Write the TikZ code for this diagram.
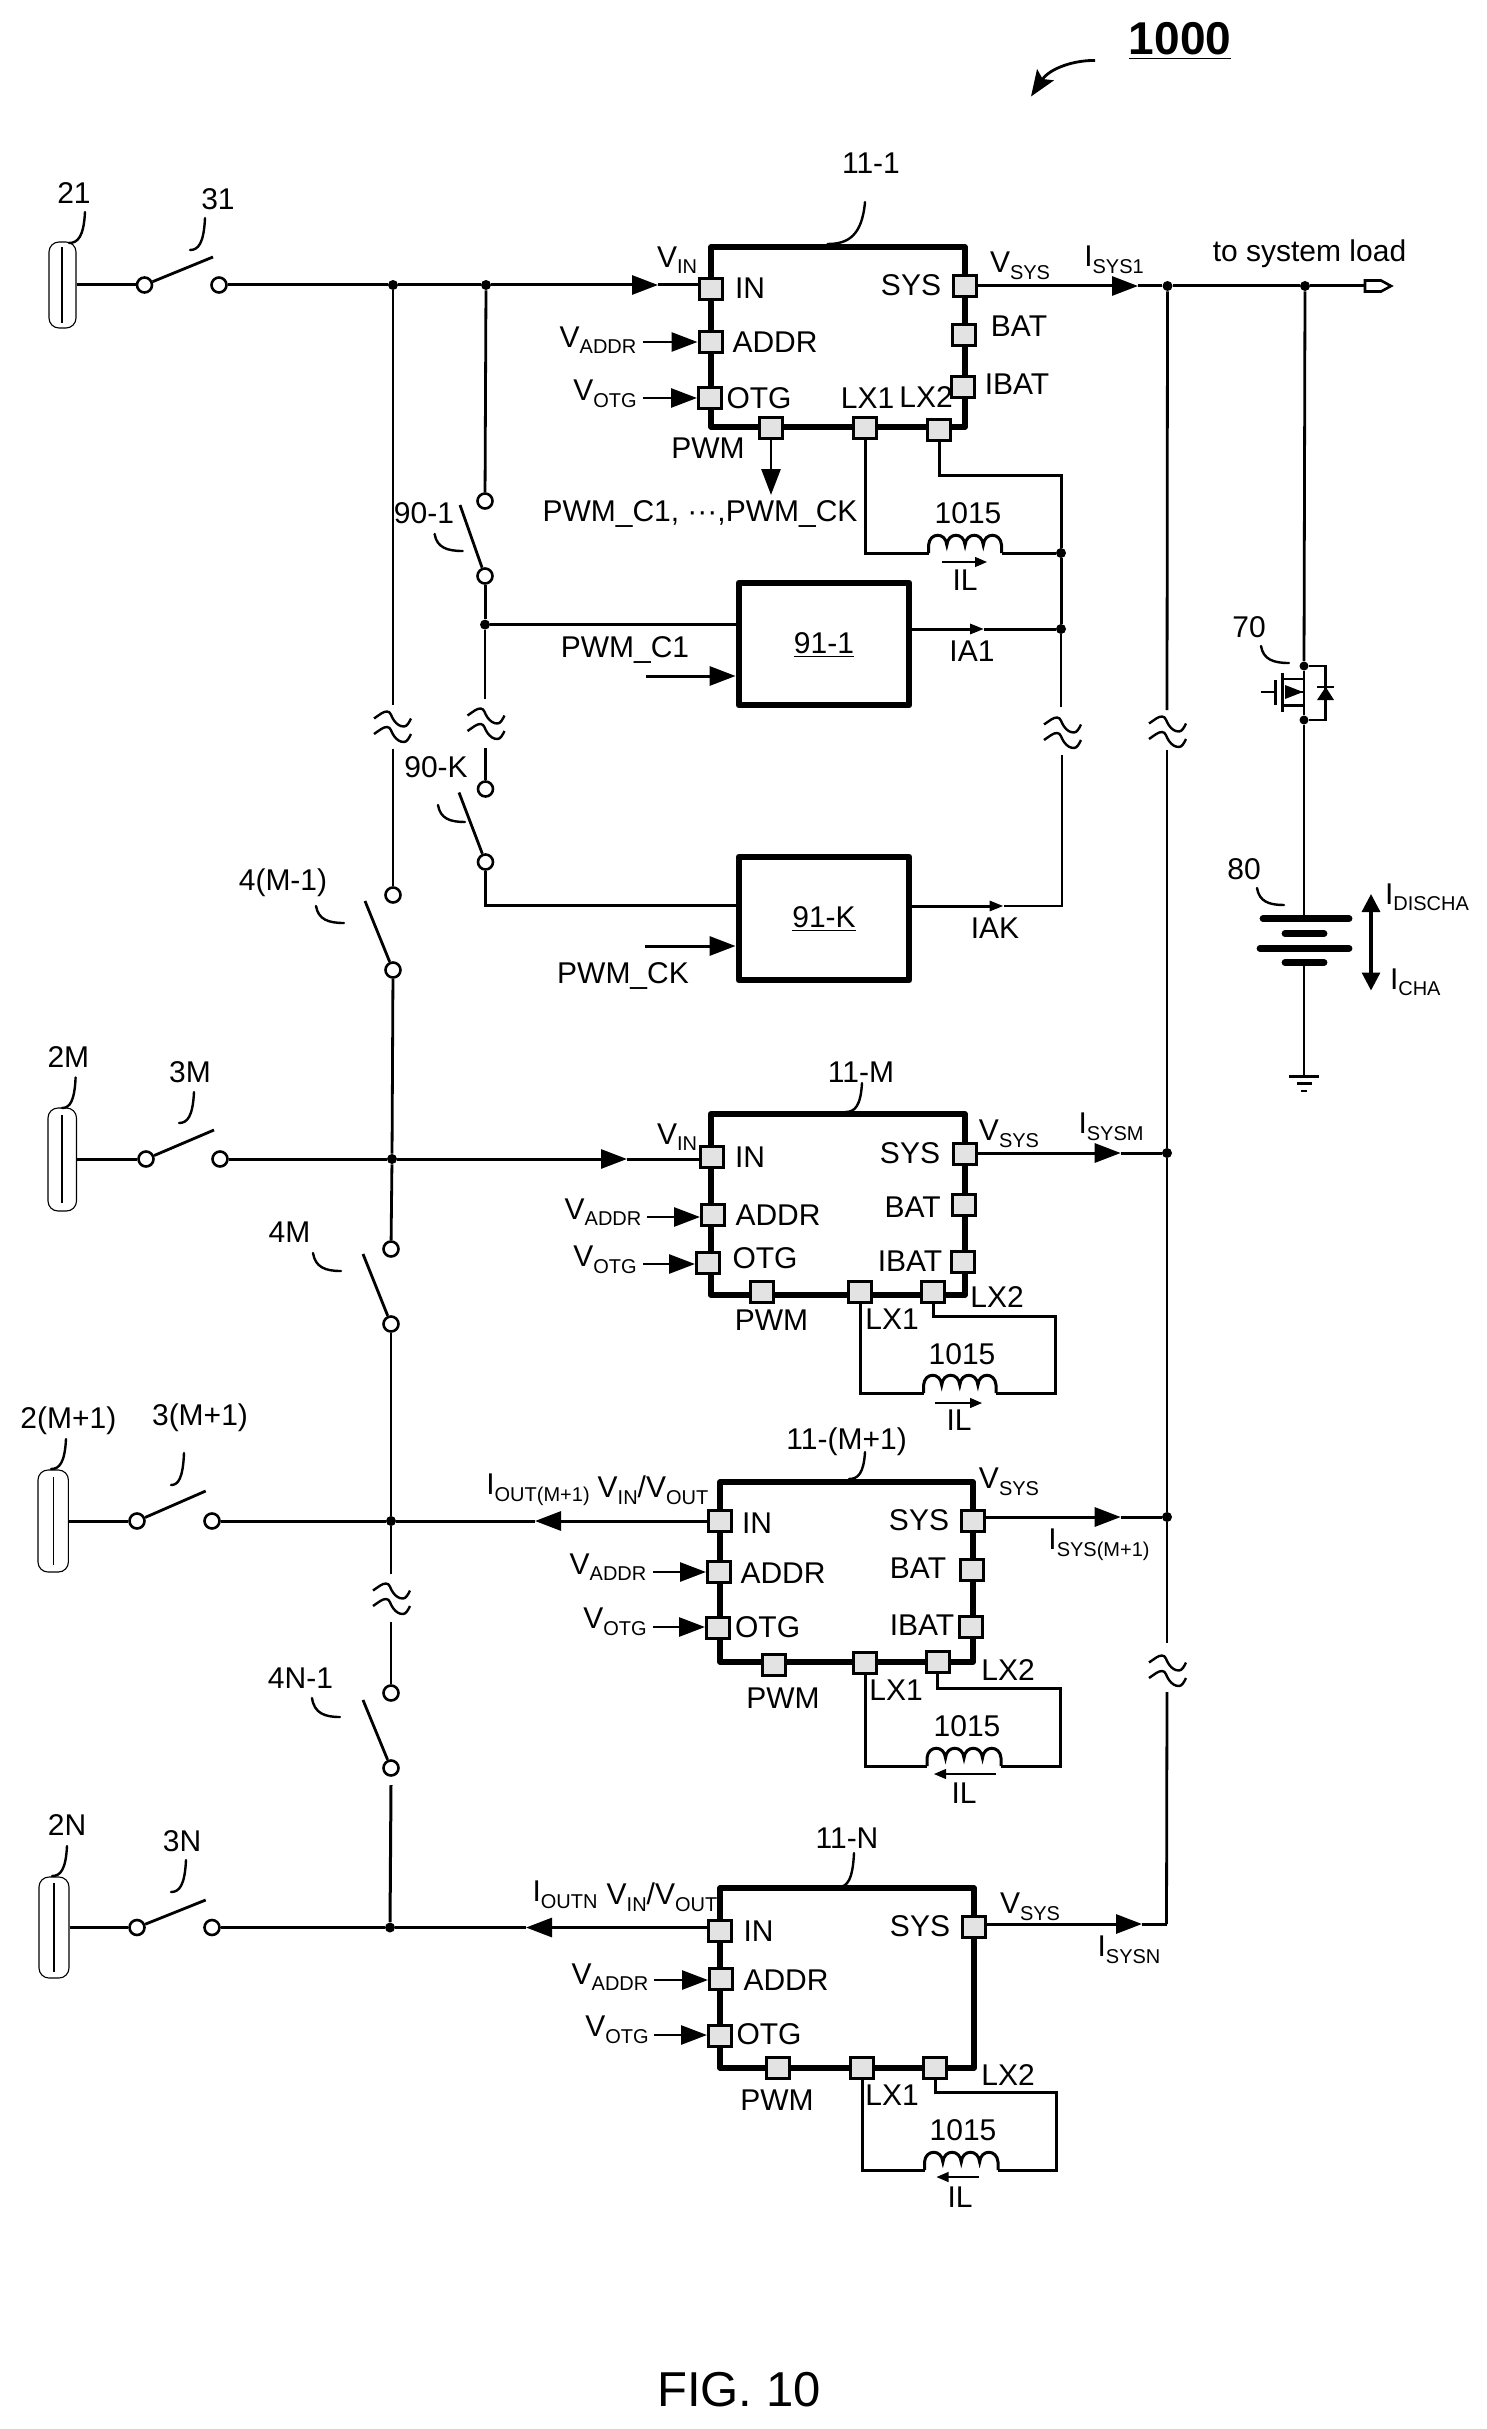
\documentclass[tikz,border=0pt]{standalone}
\usepackage{fontspec}
\setmainfont{Liberation Sans}
\usetikzlibrary{arrows.meta,fit,positioning}
\tikzset{
  lbl/.style={inner sep=0pt,outer sep=0pt,font=\fontsize{15}{17}\selectfont,text=black},
  wire/.style={draw=black,line width=1.5pt,line join=miter},
  thinw/.style={draw=black,line width=1.4pt},
  leader/.style={draw=black,line width=1.2pt,line cap=round},
  blade/.style={draw=black,line width=1.4pt},
  bigtip/.style={-{Triangle[length=13pt,width=9.5pt]}},
  smalltip/.style={-{Triangle[length=7pt,width=5pt]}},
  icbox/.style={draw=black,line width=2.8pt,inner sep=0pt,line join=round},
  blockbox/.style={draw=black,line width=3.4pt,inner sep=0pt,line join=round},
  padbox/.style={draw=black,fill=black!11,line width=1.5pt,inner sep=0pt,minimum width=11.5pt,minimum height=10.3pt},
  term/.style={circle,draw=black,fill=white,line width=1.3pt,inner sep=0pt,minimum size=7.5pt},
  dot/.style={circle,fill=black,inner sep=0pt,minimum size=5pt},
  srcbox/.style={draw=black,line width=0.55pt,rounded corners=5pt,inner sep=0pt},
  brkline/.style={draw=black,line width=1.2pt},
  iltip/.style={draw=black,line width=0.6pt,-{Triangle[length=6pt,width=5pt]}},
}
\newcommand{\mylab}[4]{\node[lbl] (#1) at (#2,#3) {#4};}
\newcommand{\VS}[2]{#1\raisebox{-0.22em}{\fontsize{10}{10}\selectfont #2}}
\newcommand{\mypad}[3]{\node[padbox] (#1) at (#2,#3) {};}
\newcommand{\myic}[5]{\coordinate (#1-tl) at (#2,#3); \coordinate (#1-br) at (#4,#5); \node[icbox,fit=(#1-tl)(#1-br)] (#1) {};}
\newcommand{\myblock}[5]{\coordinate (#1-tl) at (#2,#3); \coordinate (#1-br) at (#4,#5); \node[blockbox,fit=(#1-tl)(#1-br)] (#1) {};}
\newcommand{\mysrc}[8]{\coordinate (#1-tl) at (#2,#3); \coordinate (#1-br) at (#4,#5); \node[srcbox,fit=(#1-tl)(#1-br)] (#1) {};
  \coordinate (#1-p) at (#6,#7); \coordinate (#1-q) at (#6,#8); \draw[draw=black,line width=0.8pt] (#1-p) -- (#1-q);}
\newcommand{\myhook}[5]{\coordinate (#1-a) at (#2,#3); \coordinate (#1-b) at (#4,#5);
  \pgfmathsetmacro{\hxa}{#2+0.08*(#4-#2)} \pgfmathsetmacro{\hya}{#3+0.8*(#5-#3)} \pgfmathsetmacro{\hxb}{#2+0.45*(#4-#2)}
  \draw[leader] (#1-a) .. controls (\hxa,\hya) and (\hxb,#5) .. (#1-b);}
\newcommand{\myblade}[3]{\coordinate (#1-end) at (#2,#3); \draw[blade] (#1) -- (#1-end);}
\newcommand{\mybrk}[2]{\begin{scope}[shift={(#1,#2)}]
  \draw[brkline] (-18,-7.5) .. controls (-12,-11.5) and (-9,-14.5) .. (-5,-14.5) .. controls (-1,-14.5) and (-1,-9.5) .. (2,-5.5) .. controls (5,-1.5) and (8,0.5) .. (12,0.5) .. controls (15,0.5) and (17,-3.5) .. (19,-7.5);
  \draw[brkline] (-18,8) .. controls (-12,4) and (-9,1) .. (-5,1) .. controls (-1,1) and (-1,6) .. (2,10) .. controls (5,14) and (8,16) .. (12,16) .. controls (15,16) and (17,12) .. (19,8);
\end{scope}}
\newcommand{\myind}[4]{\coordinate (#1-a) at (#2,#4); \coordinate (#1-b) at (#3,#4);
  \pgfmathsetmacro{\iw}{(#3-#2)/4} \pgfmathsetmacro{\ixa}{#2+\iw} \pgfmathsetmacro{\ixb}{#2+2*\iw} \pgfmathsetmacro{\ixc}{#2+3*\iw}
  \pgfmathsetmacro{\iy}{#4-8} \pgfmathsetmacro{\icy}{#4-21}
  \draw[wire] (#1-a) -- (#2,\iy) .. controls (#2+1,\icy) and (\ixa-1,\icy) .. (\ixa,\iy) .. controls (\ixa+1,\icy) and (\ixb-1,\icy) .. (\ixb,\iy) .. controls (\ixb+1,\icy) and (\ixc-1,\icy) .. (\ixc,\iy) .. controls (\ixc+1,\icy) and (#3-1,\icy) .. (#3,\iy) -- (#1-b);}
\begin{document}
\begin{tikzpicture}[x=0.5pt,y=-0.5pt]
\useasboundingbox (0,0) rectangle (1487,2429);

% title
\node[lbl,font=\fontsize{23}{25}\selectfont\bfseries] (ttl) at (1180,41) {\underline{1000}};
\coordinate (ttla) at (1095,60.5); \coordinate (ttlb) at (1031,96.5);
\draw[draw=black,line width=1.4pt,-{Stealth[length=13pt,width=10pt,inset=2.5pt]}] (ttla) .. controls (1075,60) and (1050,68) .. (ttlb);
\mylab{fig}{739}{2390}{\fontsize{24.5}{27}\selectfont FIG. 10}

% === row 1 sources ===
\mysrc{s1}{49}{242}{76}{328}{62}{247}{323}
\node[term] (t1a) at (144.5,285) {};
\node[term] (t1b) at (219,285) {};
\myblade{t1a}{213}{257}
\mylab{l21}{74}{193}{21}
\myhook{h21}{85}{212}{69}{243}
\mylab{l31}{218}{199}{31}
\myhook{h31}{205}{218}{190}{250}
\draw[wire] (s1) -- (t1a);
\node[dot] (j1) at (393,285) {};
\node[dot] (j2) at (486,285) {};

% IC 11-1
\myic{a}{711}{247}{965}{427}
\mypad{aIN}{711}{289} \mypad{aAD}{710.5}{342} \mypad{aOT}{710}{398}
\mypad{aPW}{771}{428} \mypad{aL1}{865}{428} \mypad{aL2}{939}{430}
\mypad{aSY}{965}{286} \mypad{aBA}{964}{335} \mypad{aIB}{962.5}{387}
\mylab{aIN-t}{750}{288}{IN} \mylab{aAD-t}{775}{342}{ADDR} \mylab{aOT-t}{759}{398}{OTG}
\mylab{aSY-t}{911}{285}{SYS} \mylab{aBA-t}{1019}{326}{BAT} \mylab{aIB-t}{1017}{384}{IBAT}
\mylab{aL1-t}{867.5}{398}{LX1} \mylab{aL2-t}{926}{397}{LX2} \mylab{aPW-t}{708}{448}{PWM}
\mylab{aVI}{677}{260}{\VS{V}{IN}} \mylab{aVA}{598}{340}{\VS{V}{ADDR}} \mylab{aVO}{605}{394}{\VS{V}{OTG}}
\mylab{aVS}{1020}{266}{\VS{V}{SYS}} \mylab{aIS}{1114}{260}{\VS{I}{SYS1}}
\mylab{a11}{871}{163}{11-1}
\myhook{ha}{865}{202}{827.6}{244}
\mylab{load-t}{1309.5}{254}{to system load}
\draw[wire] (t1b) -- (j1); \draw[wire] (j1) -- (j2);
\coordinate (aTip) at (658,285);
\draw[wire,bigtip] (j2) -- (aTip); \draw[wire] (aTip) -- (aIN.west |- aTip);
\coordinate (aVAf) at (643,342); \draw[thinw,bigtip] (aVAf) -- (aVAf -| aAD.west);
\coordinate (aVOf) at (643,398); \draw[thinw,bigtip] (aVOf) -- (aVOf -| aOT.west);
\coordinate (aPf) at (771,495); \draw[thinw,bigtip] (aPW.south) -- (aPf);
\mylab{pwmall}{700}{514}{PWM\_C1, ···,PWM\_CK}
% output
\coordinate (aSTip) at (1138,286);
\node[dot] (j3) at (1167.5,286) {};
\node[dot] (j4) at (1305,286) {};
\draw[wire,bigtip] (aSY.east |- aSTip) -- (aSTip); \draw[wire] (aSTip) -- (j3); \draw[wire] (j3) -- (j4);
\coordinate (loadc) at (1365,286);
\draw[wire] (j4) -- (loadc);
\draw[draw=black,line width=1.3pt,line join=miter] (loadc) -- (1365,280.5) -- (1381,280.5) -- (1391,286) -- (1381,291.5) -- (1365,291.5) -- cycle;
% inductor group 1
\myind{ia}{928.6}{1001.5}{553}
\node[dot] (j5) at (1061,553) {};
\node[dot] (j6) at (1061,629) {};
\coordinate (aC) at (1061,475);
\draw[wire] (aL1.south) |- (ia-a);
\draw[wire] (ia-b) -- (j5);
\draw[wire] (aL2.south) |- (aC) -- (j5);
\draw[wire] (j5) -- (j6);
\coordinate (aILs) at (942,562); \coordinate (aILe) at (987,562);
\draw[iltip] (aILs) -- (aILe);
\mylab{aIL}{965}{580}{IL} \mylab{a1015}{968}{513}{1015}

% === 90-1, 91-1 ===
\node[term] (t90a) at (485,501) {};
\node[term] (t90b) at (485,576) {};
\myblade{t90b}{460}{505}
\draw[thinw] (j2) -- (t90a);
\mylab{l901}{424}{513}{90-1}
\myhook{h901}{434.6}{534}{462.6}{551}
\node[dot] (j7) at (485,624.6) {};
\draw[wire] (t90b) -- (j7);
\coordinate (brk1) at (485,698.6); \draw[thinw] (j7) -- (brk1);
\mybrk{485.5}{723}
\coordinate (brk1b) at (485.5,748);
\node[term] (t9ka) at (485.5,789) {};
\draw[thinw] (brk1b) -- (t9ka);
\node[term] (t9kb) at (485.5,862) {};
\myblade{t9kb}{459}{792.5}
\mylab{l90k}{436}{767.5}{90-K}
\myhook{h90k}{438}{805}{465}{822}
\myblock{b1}{739}{583}{909}{705}
\myblock{bk}{739}{857}{909}{980}
\mylab{b1-t}{824}{645}{\underline{91-1}}
\mylab{bk-t}{824}{919}{\underline{91-K}}
\draw[wire] (j7) -- (j7 -| b1.west);
\coordinate (b1f) at (646,676); \draw[wire,bigtip] (b1f) -- (b1f -| b1.west);
\mylab{b1pwm}{625}{650}{PWM\_C1}
\coordinate (bkC) at (485.5,905);
\draw[wire] (t9kb) -- (bkC) -- (bkC -| bk.west);
\coordinate (bkf) at (645,946); \draw[wire,bigtip] (bkf) -- (bkf -| bk.west);
\mylab{bkpwm}{623}{976}{PWM\_CK}
\coordinate (b1Tip) at (984,629);
\draw[wire,smalltip] (b1.east |- b1Tip) -- (b1Tip); \draw[wire] (b1Tip) -- (j6);
\mylab{ia1}{972}{651}{IA1}
% right vertical lower
\coordinate (rv1) at (1061,707); \draw[thinw] (j6) -- (rv1);
\mybrk{1062}{732}
\coordinate (rv2) at (1062,755); \coordinate (rv3) at (1062,906);
\coordinate (bkTip) at (1003.5,906);
\draw[thinw] (rv2) -- (rv3) -- (bkTip);
\draw[wire,smalltip] (bk.east |- bkTip) -- (bkTip);
\mylab{iak}{995}{928}{IAK}

% left bus
\coordinate (lb1) at (393,705); \draw[thinw] (j1) -- (lb1);
\mybrk{392}{726}
\coordinate (lb2) at (393,748.6);
\node[term] (t4a) at (393,895) {};
\node[term] (t4b) at (393,970) {};
\draw[thinw] (lb2) -- (t4a);
\myblade{t4b}{365}{901}
\mylab{l4m1}{283}{883}{4(M-1)}
\myhook{h4m1}{316}{906}{344}{923}

% === row M ===
\mysrc{sm}{48}{1108}{76.5}{1211}{62}{1115}{1202.5}
\node[term] (tma) at (146,1159) {};
\node[term] (tmb) at (220,1159) {};
\myblade{tma}{214}{1130}
\draw[wire] (sm.east |- tma) -- (tma);
\mylab{l2m}{68.4}{1057}{2M}
\myhook{h2m}{75.6}{1077.5}{62}{1108}
\mylab{l3m}{190}{1072}{3M}
\myhook{h3m}{194}{1092}{179}{1123}
\node[dot] (jm) at (392,1159) {};
\draw[wire] (tmb) -- (jm);
\draw[thinw] (t4b) -- (jm);
\myic{m}{710.7}{1114}{965}{1295}
\mypad{mIN}{711.6}{1157} \mypad{mAD}{713}{1215} \mypad{mOT}{708}{1263}
\mypad{mPW}{762}{1292} \mypad{mL1}{860}{1292} \mypad{mL2}{933}{1292}
\mypad{mSY}{965}{1154} \mypad{mBA}{964}{1205} \mypad{mIB}{963}{1262}
\mylab{mIN-t}{750}{1157}{IN} \mylab{mAD-t}{778}{1215}{ADDR} \mylab{mOT-t}{765}{1258}{OTG}
\mylab{mSY-t}{910}{1153}{SYS} \mylab{mBA-t}{912.6}{1207}{BAT} \mylab{mIB-t}{910}{1261}{IBAT}
\mylab{mPW-t}{771.4}{1320}{PWM} \mylab{mL1-t}{892}{1319}{LX1} \mylab{mL2-t}{997}{1297}{LX2}
\mylab{m11}{861}{1072}{11-M}
\myhook{hm}{862}{1083}{845.6}{1112}
\mylab{mVI}{677}{1137}{\VS{V}{IN}} \mylab{mVA}{603}{1212}{\VS{V}{ADDR}} \mylab{mVO}{605}{1260}{\VS{V}{OTG}}
\mylab{mVS}{1009}{1134}{\VS{V}{SYS}} \mylab{mIS}{1111}{1127}{\VS{I}{SYSM}}
\coordinate (mTip) at (627,1159);
\draw[wire,bigtip] (jm) -- (mTip); \draw[wire] (mTip) -- (mIN.west |- mTip);
\coordinate (mVAf) at (647,1217); \draw[thinw,bigtip] (mVAf) -- (mVAf -| mAD.west);
\coordinate (mVOf) at (643,1264); \draw[thinw,bigtip] (mVOf) -- (mVOf -| mOT.west);
\node[dot] (jrm) at (1167,1153) {};
\coordinate (mSTip) at (1120.7,1153);
\draw[wire,bigtip] (mSY.east |- mSTip) -- (mSTip); \draw[wire] (mSTip) -- (jrm);
\myind{im}{923.6}{996}{1393}
\coordinate (mC) at (1055,1316);
\draw[wire] (mL1.south) |- (im-a);
\draw[wire] (im-b) -| (mC) -| (mL2.south);
\coordinate (mILs) at (935,1403); \coordinate (mILe) at (982,1403);
\draw[iltip] (mILs) -- (mILe);
\mylab{mIL}{959}{1420}{IL} \mylab{m1015}{962}{1354}{1015}

% switch 4M
\node[term] (t5a) at (391,1249) {};
\node[term] (t5b) at (391,1324) {};
\draw[thinw] (jm) -- (t5a);
\myblade{t5b}{363}{1254}
\mylab{l4m}{289.5}{1232}{4M}
\myhook{h4m}{313}{1253}{341}{1271}

% === row M+1 ===
\mysrc{sp}{38}{1470}{68.4}{1572}{53.6}{1477}{1565}
\node[term] (tpa) at (137,1521) {};
\node[term] (tpb) at (212,1521) {};
\myblade{tpa}{205.7}{1491}
\draw[wire] (sp) -- (tpa);
\mylab{l2p}{68.4}{1421}{2(M+1)}
\myhook{h2p}{66}{1439}{51}{1469}
\mylab{l3p}{200}{1418}{3(M+1)}
\myhook{h3p}{184}{1453}{171}{1485}
\node[dot] (jp) at (391,1521) {};
\draw[wire] (tpb) -- (jp);
\draw[thinw] (t5b) -- (jp);
\coordinate (pb1) at (391,1574); \draw[thinw] (jp) -- (pb1);
\mybrk{391}{1598}
\coordinate (pb2) at (391,1622);
\node[term] (t6a) at (391,1693) {};
\node[term] (t6b) at (391,1768) {};
\draw[thinw] (pb2) -- (t6a);
\myblade{t6b}{363}{1700}
\mylab{l4n}{300.5}{1678}{4N-1}
\myhook{h4n}{312}{1698}{340}{1717}
\myic{p}{720}{1482}{973}{1662}
\mypad{pIN}{720}{1521} \mypad{pAD}{719}{1572} \mypad{pOT}{718}{1628}
\mypad{pPW}{774}{1665} \mypad{pL1}{865}{1663} \mypad{pL2}{937.5}{1662}
\mypad{pSY}{973}{1521} \mypad{pBA}{972}{1570} \mypad{pIB}{971}{1627}
\mylab{pIN-t}{757}{1523}{IN} \mylab{pAD-t}{783}{1573}{ADDR} \mylab{pOT-t}{767.6}{1627}{OTG}
\mylab{pSY-t}{919}{1520}{SYS} \mylab{pBA-t}{918}{1568}{BAT} \mylab{pIB-t}{922}{1625}{IBAT}
\mylab{pPW-t}{783}{1698}{PWM} \mylab{pL1-t}{896}{1690}{LX1} \mylab{pL2-t}{1008}{1670}{LX2}
\mylab{p11}{846.6}{1442}{11-(M+1)}
\myhook{hp}{865}{1452}{849}{1479}
\mylab{pIO}{538}{1490}{\VS{I}{OUT(M+1)}} \mylab{pVI}{653}{1490}{\VS{V}{IN}/\VS{V}{OUT}}
\mylab{pVA}{608}{1567}{\VS{V}{ADDR}} \mylab{pVO}{615}{1622}{\VS{V}{OTG}}
\mylab{pVS}{1009}{1482}{\VS{V}{SYS}} \mylab{pIS}{1099}{1545}{\VS{I}{SYS(M+1)}}
\coordinate (pTip) at (535,1521);
\draw[wire,bigtip] (pIN.west) -- (pTip);
\draw[wire] (pTip) -- (jp);
\coordinate (pVAf) at (653,1572); \draw[thinw,bigtip] (pVAf) -- (pVAf -| pAD.west);
\coordinate (pVOf) at (653,1627); \draw[thinw,bigtip] (pVOf) -- (pVOf -| pOT.west);
\node[dot] (jrp) at (1167,1517) {};
\coordinate (pSTip) at (1120.7,1517);
\draw[wire,bigtip] (pSY.east |- pSTip) -- (pSTip); \draw[wire] (pSTip) -- (jrp);
\myind{ip}{927}{1001}{1766}
\coordinate (pC) at (1060,1688);
\draw[wire] (pL1.south) |- (ip-a);
\draw[wire] (ip-b) -| (pC) -| (pL2.south);
\coordinate (pILs) at (996,1774); \coordinate (pILe) at (934,1774);
\draw[iltip] (pILs) -- (pILe);
\mylab{pIL}{964}{1793}{IL} \mylab{p1015}{967}{1726}{1015}

% === row N ===
\mysrc{sn}{39}{1877}{69}{1978}{54}{1883}{1972}
\node[term] (tna) at (137,1927.5) {};
\node[term] (tnb) at (212,1927.5) {};
\myblade{tna}{205.7}{1900}
\draw[wire] (sn) -- (tna);
\mylab{l2n}{67}{1825}{2N}
\myhook{h2n}{67}{1846}{52}{1876}
\mylab{l3n}{182}{1841}{3N}
\myhook{h3n}{186}{1860}{171}{1892}
\node[dot] (jn) at (390,1927.5) {};
\draw[wire] (tnb) -- (jn);
\coordinate (nb1) at (391,1785); \draw[wire] (nb1) -- (jn);
\myic{n}{720}{1888}{974}{2068}
\mypad{nIN}{720}{1931} \mypad{nAD}{721}{1979} \mypad{nOT}{720}{2036}
\mypad{nPW}{778}{2068} \mypad{nL1}{862}{2068} \mypad{nL2}{935}{2068}
\mypad{nSY}{974}{1927}
\mylab{nIN-t}{758.5}{1931}{IN} \mylab{nAD-t}{786}{1980}{ADDR} \mylab{nOT-t}{769}{2034}{OTG}
\mylab{nSY-t}{920}{1926}{SYS}
\mylab{nPW-t}{777}{2100}{PWM} \mylab{nL1-t}{892}{2095}{LX1} \mylab{nL2-t}{1008}{2075}{LX2}
\mylab{n11}{847}{1838}{11-N}
\myhook{hn}{854}{1853}{838.4}{1887}
\mylab{nIO}{565}{1895}{\VS{I}{OUTN}} \mylab{nVI}{662}{1897}{\VS{V}{IN}/\VS{V}{OUT}}
\mylab{nVA}{610}{1977}{\VS{V}{ADDR}} \mylab{nVO}{617}{2030}{\VS{V}{OTG}}
\mylab{nVS}{1030}{1907}{\VS{V}{SYS}} \mylab{nIS}{1129}{1950}{\VS{I}{SYSN}}
\coordinate (nTip) at (526,1927.5);
\draw[wire] (nTip) -- (jn);
\draw[wire,bigtip] (nIN.west |- nTip) -- (nTip);
\coordinate (nVAf) at (654,1980); \draw[thinw,bigtip] (nVAf) -- (nVAf -| nAD.west);
\coordinate (nVOf) at (654,2035); \draw[thinw,bigtip] (nVOf) -- (nVOf -| nOT.west);
\coordinate (rc) at (1166.5,1924);
\coordinate (nSTip) at (1142,1924);
\draw[wire,bigtip] (nSY.east |- nSTip) -- (nSTip); \draw[wire] (nSTip) -- (rc);
\myind{in}{924.5}{998}{2170}
\coordinate (nC) at (1056.6,2092);
\draw[wire] (nL1.south) |- (in-a);
\draw[wire] (in-b) -| (nC) -| (nL2.south);
\coordinate (nILs) at (978.6,2177); \coordinate (nILe) at (936.5,2177);
\draw[iltip] (nILs) -- (nILe);
\mylab{nIL}{960}{2197}{IL} \mylab{n1015}{963}{2130}{1015}

% right bus
\coordinate (rb1) at (1167,710); \draw[thinw] (j3) -- (rb1);
\mybrk{1167}{731}
\coordinate (rb2) at (1167,749.5);
\draw[thinw] (rb2) -- (jrm); \draw[thinw] (jrm) -- (jrp);
\coordinate (rb3) at (1167,1643); \draw[thinw] (jrp) -- (rb3);
\mybrk{1167}{1670}
\coordinate (rb4) at (1167,1692); \draw[thinw] (rb4) -- (rc);

% === MOSFET and battery ===
\node[dot,minimum size=4.5pt] (ju) at (1304,666) {};
\node[dot,minimum size=4.5pt] (jd) at (1304,720) {};
\draw[thinw] (j4) -- (ju);
\draw[thinw] (ju) -- (1304,679) -- (1282,679);
\draw[thinw] (jd) -- (1304,705.6) -- (1282,705.6);
\draw[thinw] (1304,679) -- (1304,705.6);
\draw[draw=black,line width=1.5pt] (1282,673) -- (1282,711.6);
\draw[draw=black,line width=1.5pt] (1275,680) -- (1275,704.6);
\draw[draw=black,line width=1.3pt] (1260.6,692) -- (1275,692);
\fill[black] (1303,692) -- (1285,685) -- (1285,699) -- cycle;
\draw[thinw] (1300,692) -- (1304,692);
\draw[thinw] (ju) -| (1325.7,720) -- (jd);
\fill[black] (1325.7,687) -- (1334,700) -- (1317,700) -- cycle;
\draw[draw=black,line width=1.2pt] (1317,687) -- (1334,687);
\mylab{l70}{1249}{627}{70}
\myhook{h70}{1261}{646}{1289}{663}
\mylab{l80}{1244}{869.5}{80}
\myhook{h80}{1257}{888}{1284}{905}
\coordinate (batt) at (1304,918.6);
\draw[thinw] (jd) -- (batt);
\draw[draw=black,line width=3.4pt,line cap=round] (1263,918.6) -- (1349,918.6);
\draw[draw=black,line width=3.4pt,line cap=round] (1285,933.7) -- (1324,933.7);
\draw[draw=black,line width=3.4pt,line cap=round] (1260,948.4) -- (1349,948.4);
\coordinate (batb) at (1304,962.5);
\draw[draw=black,line width=3.4pt,line cap=round] (1285,962.5) -- (1324,962.5);
\coordinate (gnd) at (1304,1076.5);
\draw[thinw] (batb) -- (gnd);
\draw[draw=black,line width=1.5pt] (1289,1076.5) -- (1319,1076.5);
\draw[draw=black,line width=1.2pt] (1297,1083.5) -- (1312,1083.5);
\draw[draw=black,line width=1.2pt] (1301,1091) -- (1307,1091);
\coordinate (ca) at (1371,894); \coordinate (cb) at (1371,990.5);
\draw[draw=black,line width=1.6pt,{Triangle[length=9pt,width=9pt]}-{Triangle[length=9pt,width=9pt]}] (ca) -- (cb);
\node[lbl,anchor=base west] (idis) at (1385,904) {\VS{I}{DISCHA}};
\node[lbl,anchor=base west] (icha) at (1390,989) {\VS{I}{CHA}};
\end{tikzpicture}
\end{document}
